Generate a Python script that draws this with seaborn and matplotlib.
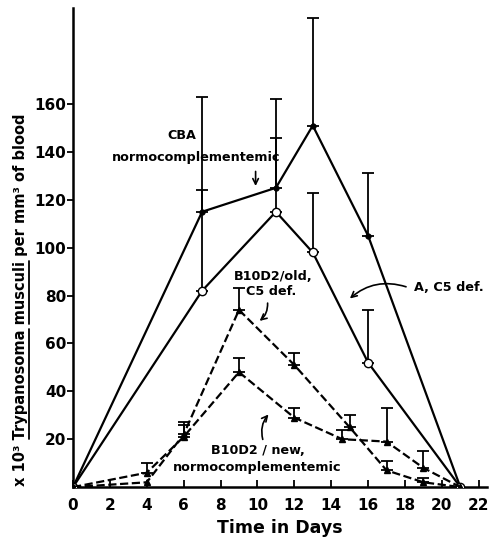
import numpy as np
import pandas as pd
import matplotlib
matplotlib.use("Agg")
import matplotlib.pyplot as plt
from matplotlib.lines import Line2D
import seaborn as sns

# Values (x 10^3 parasites per mm^3)
cba_days = [0, 7, 11, 13, 16, 21]
cba_vals = [0, 115, 125, 151, 105, 0]
cba_err = [0, 48, 37, 45, 26, 0]

a_days = [0, 7, 11, 13, 16, 21]
a_vals = [0, 82, 115, 98, 52, 0]
a_err = [0, 42, 31, 25, 22, 0]

old_days = [0, 4, 6, 9, 12, 15, 17, 19, 21]
old_vals = [0, 2, 22, 74, 51, 25, 7, 2, 0]
old_err = [0, 0, 5, 9, 5, 5, 4, 2, 0]

new_days = [0, 4, 6, 9, 12, 14.6, 17, 19, 21]
new_vals = [0, 6, 21, 48, 29, 20, 19, 8, 0]
new_err = [0, 4, 5, 6, 4, 4, 14, 7, 0]

sns.set_style("ticks")
plt.rcParams["font.family"] = ["DejaVu Sans"]
plt.rcParams["font.weight"] = "bold"
for k in ["text.color", "axes.labelcolor", "xtick.color", "ytick.color", "axes.edgecolor"]:
    plt.rcParams[k] = "black"

fig = plt.figure(figsize=(4.9, 5.51), dpi=100)
ax = fig.add_axes([0.149, 0.116, 0.845, 0.869])

series = [
    (cba_days, cba_vals, cba_err, "-", "o", 3.5, "black"),
    (a_days, a_vals, a_err, "-", "o", 6, "white"),
    (old_days, old_vals, old_err, "--", "^", 5, "black"),
    (new_days, new_vals, new_err, "--", "^", 5, "black"),
]

for days, vals, err, ls, mk, ms, fc in series:
    df = pd.DataFrame({"day": days, "val": vals})
    sns.lineplot(data=df, x="day", y="val", ax=ax, color="black",
                 linestyle=ls, linewidth=1.6, marker=mk, markersize=ms,
                 markerfacecolor=fc, markeredgecolor="black",
                 markeredgewidth=1.0, zorder=3)
    d = np.array(days)
    v = np.array(vals)
    e = np.array(err)
    keep = e > 0
    ax.errorbar(d[keep], v[keep], yerr=[np.zeros(keep.sum()), e[keep]],
                fmt="none", ecolor="black", elinewidth=1.3, capsize=4,
                capthick=1.3, zorder=2)

ax.set_xlim(0, 22.45)
ax.set_ylim(0, 200)
ax.set_xticks(range(0, 23, 2))
ax.set_yticks(range(20, 161, 20))
ax.tick_params(axis="x", direction="in", length=5, width=1.3, labelsize=11, pad=8)
ax.tick_params(axis="y", direction="out", length=4, width=1.3, labelsize=11, pad=1)
for lab in ax.get_xticklabels() + ax.get_yticklabels():
    lab.set_fontweight("bold")
sns.despine(ax=ax)
ax.spines["left"].set_linewidth(1.8)
ax.spines["bottom"].set_linewidth(1.8)

ax.set_xlabel("Time in Days", fontsize=12.5, fontweight="bold", labelpad=4)
ylab_text = "x 10\u00b3 Trypanosoma musculi per mm\u00b3 of blood"
ax.set_ylabel(ylab_text, fontsize=10.5, fontweight="bold")
ax.yaxis.set_label_coords(-0.108, 0.392)

# annotations
fs = 9.2
ax.text(5.92, 146.7, "CBA", fontsize=fs, fontweight="bold", ha="center", va="center")
ax.text(6.68, 137.5, "normocomplementemic", fontsize=fs, fontweight="bold", ha="center", va="center")
ax.annotate("", xy=(9.9, 124.6), xytext=(9.9, 133),
            arrowprops=dict(arrowstyle="->", color="black", lw=1.2))

ax.text(10.87, 87.9, "B10D2/old,", fontsize=fs, fontweight="bold", ha="center", va="center")
ax.text(10.75, 81.7, "C5 def.", fontsize=fs, fontweight="bold", ha="center", va="center")
ax.annotate("", xy=(10.0, 68.7), xytext=(10.54, 78),
            arrowprops=dict(arrowstyle="->", color="black", lw=1.2,
                            connectionstyle="arc3,rad=-0.3"))

ax.text(18.5, 83.3, "A, C5 def.", fontsize=fs, fontweight="bold", ha="left", va="center")
ax.annotate("", xy=(14.9, 78), xytext=(18.2, 83.3),
            arrowprops=dict(arrowstyle="->", color="black", lw=1.2,
                            connectionstyle="arc3,rad=0.3"))

ax.text(10.0, 15.4, "B10D2 / new,", fontsize=fs, fontweight="bold", ha="center", va="center")
ax.text(10.0, 8.3, "normocomplementemic", fontsize=fs, fontweight="bold", ha="center", va="center")
ax.annotate("", xy=(10.7, 31.2), xytext=(10.33, 18.8),
            arrowprops=dict(arrowstyle="->", color="black", lw=1.2,
                            connectionstyle="arc3,rad=-0.3"))

# underline the species name in the y label
fig.canvas.draw()
renderer = fig.canvas.get_renderer()
ylab = ax.yaxis.label
bb = ylab.get_window_extent(renderer)
prop = ylab.get_fontproperties()

def text_w(s):
    return renderer.get_text_width_height_descent(s, prop, ismath=False)[0]

total = text_w(ylab_text)
scale = bb.height / total
ux = bb.x1 + 1
for word in ["Trypanosoma", "musculi"]:
    start = ylab_text.index(word)
    y0 = bb.y0 + text_w(ylab_text[:start]) * scale
    y1 = bb.y0 + text_w(ylab_text[:start + len(word)]) * scale
    p0 = fig.transFigure.inverted().transform((ux, y0))
    p1 = fig.transFigure.inverted().transform((ux, y1))
    fig.add_artist(Line2D([p0[0], p1[0]], [p0[1], p1[1]], color="black", lw=1.3))

plt.savefig("out.png", dpi=100)
